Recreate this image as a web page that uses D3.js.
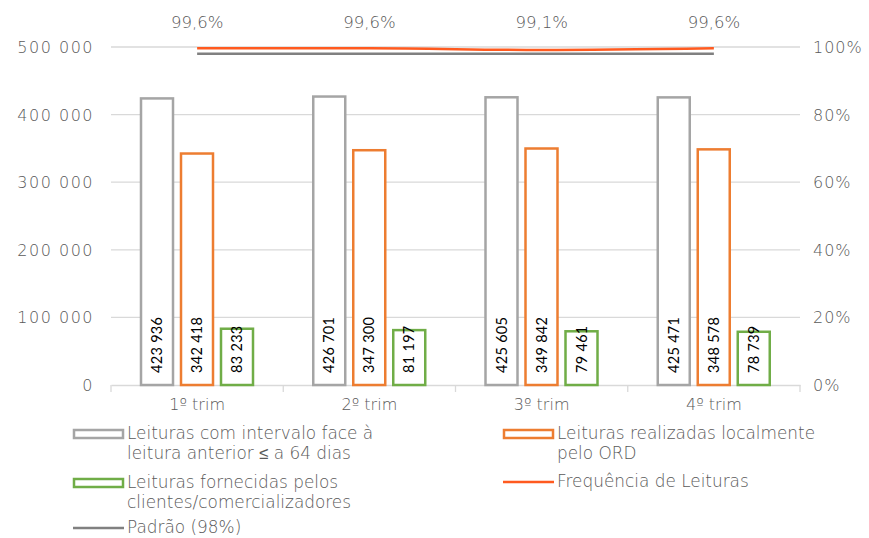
<!DOCTYPE html>
<html>
<head>
<meta charset="utf-8">
<script src="https://cdn.jsdelivr.net/npm/d3@7"></script>
<style>
  body { margin: 0; background: #fff; }
  text { font-family: "DejaVu Sans", sans-serif; font-weight: 300; }
  text.val { font-family: Lato, "DejaVu Sans", sans-serif; font-weight: 400; }
</style>
</head>
<body>
<div id="chart"></div>
<script>
var categories = ["1º trim", "2º trim", "3º trim", "4º trim"];
var leiturasIntervalo = [423936, 426701, 425605, 425471];
var leiturasLocais = [342418, 347300, 349842, 348578];
var leiturasClientes = [83233, 81197, 79461, 78739];
var frequencia = [99.6, 99.6, 99.1, 99.6];
var padrao = [98, 98, 98, 98];
var freqLabels = ["99,6%", "99,6%", "99,1%", "99,6%"];
var leftTicks = [0, 100000, 200000, 300000, 400000, 500000];
var rightTicks = [0, 20, 40, 60, 80, 100];

var W = 869, H = 538;
var pLeft = 111, pRight = 800, pTop = 47, pBottom = 385;
var txt = "#595959";

var svg = d3.select("#chart").append("svg")
  .attr("width", W).attr("height", H);

var x = d3.scaleBand().domain(categories).range([pLeft, pRight]);
var y = d3.scaleLinear().domain([0, 500000]).range([pBottom, pTop]);
var y2 = d3.scaleLinear().domain([0, 100]).range([pBottom, pTop]);

var fmt = function(v) { return d3.format(",")(v).replace(/,/g, " "); };

// gridlines
svg.append("g").selectAll("line")
  .data(leftTicks.slice(1))
  .enter().append("line")
  .attr("x1", pLeft).attr("x2", pRight)
  .attr("y1", function(d) { return y(d); })
  .attr("y2", function(d) { return y(d); })
  .attr("stroke", "#d9d9d9").attr("stroke-width", 1.3);

// left axis labels
svg.append("g").selectAll("text")
  .data(leftTicks)
  .enter().append("text")
  .attr("x", 94)
  .attr("y", function(d) { return y(d) + 6; })
  .attr("text-anchor", "end")
  .attr("font-size", 16)
  .attr("letter-spacing", 1.5)
  .attr("fill", txt)
  .text(function(d) { return d === 0 ? "0" : fmt(d); });

// right axis labels
svg.append("g").selectAll("text")
  .data(rightTicks)
  .enter().append("text")
  .attr("x", 813)
  .attr("y", function(d) { return y2(d) + 6; })
  .attr("font-size", 16)
  .attr("letter-spacing", 1)
  .attr("fill", txt)
  .text(function(d) { return d + "%"; });

// bottom axis
var xAxis = svg.append("g")
  .attr("transform", "translate(0," + pBottom + ")")
  .call(d3.axisBottom(x).tickSize(0).tickPadding(14));
xAxis.select(".domain").attr("stroke", "#d9d9d9").attr("stroke-width", 1.3);
xAxis.selectAll("text").attr("font-size", 16).attr("fill", txt)
  .style("font-family", "'DejaVu Sans', sans-serif").style("font-weight", 300);
svg.append("g").selectAll("line")
  .data(d3.range(categories.length + 1))
  .enter().append("line")
  .attr("x1", function(i) { return pLeft + i * x.bandwidth(); })
  .attr("x2", function(i) { return pLeft + i * x.bandwidth(); })
  .attr("y1", pBottom).attr("y2", pBottom + 7)
  .attr("stroke", "#d9d9d9").attr("stroke-width", 1.3);

// bars
var series = [
  { values: leiturasIntervalo, color: "#a5a5a5" },
  { values: leiturasLocais, color: "#ed7d31" },
  { values: leiturasClientes, color: "#70ad47" }
];
var xs = d3.scaleBand().domain([0, 1, 2]).range([30, 142]).paddingInner(0.2);

series.forEach(function(s, si) {
  var g = svg.append("g");
  g.selectAll("rect")
    .data(s.values)
    .enter().append("rect")
    .attr("x", function(d, i) { return x(categories[i]) + xs(si); })
    .attr("y", function(d) { return y(d); })
    .attr("width", xs.bandwidth())
    .attr("height", function(d) { return pBottom - y(d); })
    .attr("fill", "#fff")
    .attr("stroke", s.color)
    .attr("stroke-width", 2.5);
  g.selectAll("text")
    .data(s.values)
    .enter().append("text")
    .attr("class", "val")
    .attr("transform", function(d, i) {
      var cx = x(categories[i]) + xs(si) + xs.bandwidth() / 2 + 5;
      return "translate(" + cx + "," + (pBottom - 12) + ") rotate(-90)";
    })
    .attr("font-size", 14.5)
    .attr("letter-spacing", 0.3)
    .attr("fill", "#000")
    .text(function(d) { return fmt(d); });
});

// lines
var line = d3.line()
  .x(function(d, i) { return x(categories[i]) + x.bandwidth() / 2; })
  .y(function(d) { return y2(d); })
  .curve(d3.curveMonotoneX);

svg.append("path").datum(padrao)
  .attr("d", line).attr("fill", "none")
  .attr("stroke", "#808080").attr("stroke-width", 2.5);
svg.append("path").datum(frequencia)
  .attr("d", line).attr("fill", "none")
  .attr("stroke", "#ff5a1f").attr("stroke-width", 2.5);

// frequency labels
svg.append("g").selectAll("text")
  .data(freqLabels)
  .enter().append("text")
  .attr("x", function(d, i) { return x(categories[i]) + x.bandwidth() / 2; })
  .attr("y", 28)
  .attr("text-anchor", "middle")
  .attr("font-size", 16.5)
  .attr("fill", txt)
  .text(function(d) { return d; });

// legend
var legendItems = [
  { lines: ["Leituras com intervalo face à", "leitura anterior ≤ a 64 dias"], color: "#a5a5a5", type: "rect", x: 73, y: 433 },
  { lines: ["Leituras realizadas localmente", "pelo ORD"], color: "#ed7d31", type: "rect", x: 503, y: 433 },
  { lines: ["Leituras fornecidas pelos", "clientes/comercializadores"], color: "#70ad47", type: "rect", x: 73, y: 482 },
  { lines: ["Frequência de Leituras"], color: "#ff5a1f", type: "line", x: 503, y: 481 },
  { lines: ["Padrão (98%)"], color: "#808080", type: "line", x: 73, y: 527 }
];
var lg = svg.append("g");
legendItems.forEach(function(it) {
  if (it.type === "rect") {
    lg.append("rect")
      .attr("x", it.x + 1).attr("y", it.y - 3)
      .attr("width", 49).attr("height", 8)
      .attr("fill", "#fff").attr("stroke", it.color).attr("stroke-width", 2.5);
  } else {
    lg.append("line")
      .attr("x1", it.x).attr("x2", it.x + 51)
      .attr("y1", it.y + 1).attr("y2", it.y + 1)
      .attr("stroke", it.color).attr("stroke-width", 2.5);
  }
  it.lines.forEach(function(t, k) {
    lg.append("text")
      .attr("x", it.x + 54)
      .attr("y", it.y + 6 + k * 19.5)
      .attr("font-size", 16.9)
      .attr("fill", txt)
      .text(t);
  });
});
</script>
</body>
</html>
